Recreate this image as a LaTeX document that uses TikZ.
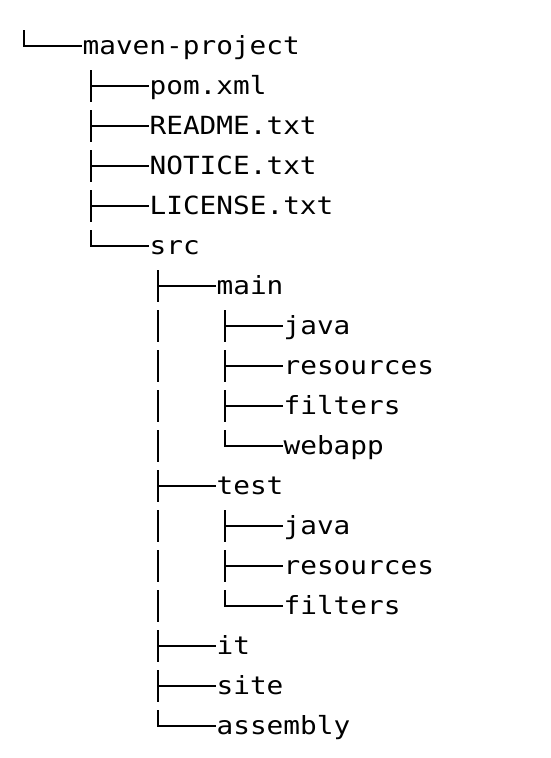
\documentclass[tikz,border=0pt]{standalone}
\usepackage{fontspec}
\newfontfamily\treefont{DejaVu Sans Mono}
\tikzset{
	file/.style={anchor=west, inner sep=0pt, text height=20pt, text depth=4pt,
		font=\treefont\fontsize{25}{30}\selectfont, xscale=1.11},
	branch/.style={line width=1.7pt, line cap=butt}
}
\begin{document}
\begin{tikzpicture}[x=1pt,y=-1pt]
\useasboundingbox (0,0) rectangle (551,758);
\node[file] (project) at (82.4,46) {maven-project};
\node[file] (pom) at (149.4,86) {pom.xml};
\node[file] (readme) at (149.4,126) {README.txt};
\node[file] (notice) at (149.4,166) {NOTICE.txt};
\node[file] (license) at (149.4,206) {LICENSE.txt};
\node[file] (src) at (149.4,246) {src};
\node[file] (main) at (216.4,286) {main};
\node[file] (mainjava) at (283.4,326) {java};
\node[file] (mainres) at (283.4,366) {resources};
\node[file] (mainfilters) at (283.4,406) {filters};
\node[file] (webapp) at (283.4,446) {webapp};
\node[file] (test) at (216.4,486) {test};
\node[file] (testjava) at (283.4,526) {java};
\node[file] (testres) at (283.4,566) {resources};
\node[file] (testfilters) at (283.4,606) {filters};
\node[file] (it) at (216.4,646) {it};
\node[file] (site) at (216.4,686) {site};
\node[file] (assembly) at (216.4,726) {assembly};
% tees
\foreach \c in {pom,readme,notice,license,main,mainjava,mainres,mainfilters,test,testjava,testres,it,site}
{
	\draw[branch] ([xshift=-58.4pt,yshift=16pt]\c.west) -- ([xshift=-58.4pt,yshift=-16pt]\c.west);
	\draw[branch] ([xshift=-58.4pt]\c.west) -- (\c.west);
}
% last child
\foreach \c in {project,src,webapp,testfilters,assembly}
{
	\draw[branch] ([xshift=-58.4pt,yshift=16pt]\c.west) |- (\c.west);
}
% pass-through bars
\foreach \c in {mainjava,mainres,mainfilters,webapp,testjava,testres,testfilters}
{
	\draw[branch] ([xshift=-125.4pt,yshift=16pt]\c.west) -- ([xshift=-125.4pt,yshift=-16pt]\c.west);
}
\end{tikzpicture}
\end{document}
